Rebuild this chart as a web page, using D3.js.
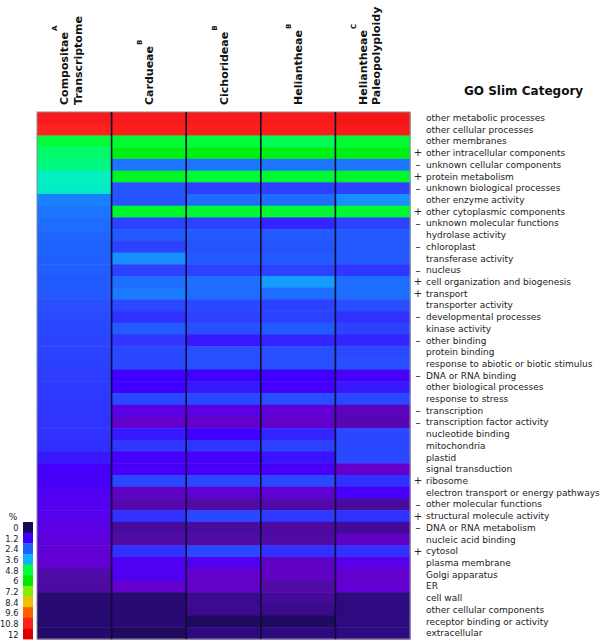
<!DOCTYPE html>
<html><head><meta charset="utf-8">
<script src="https://cdn.jsdelivr.net/npm/d3@7"></script>
<style>body{margin:0;background:#fff}svg{display:block}text{font-family:"DejaVu Sans",sans-serif}</style>
</head><body>
<svg id="c" width="601" height="640"></svg>
<script>
const categories = ["other metabolic processes","other cellular processes","other membranes","other intracellular components","unknown cellular components","protein metabolism","unknown biological processes","other enzyme activity","other cytoplasmic components","unknown molecular functions","hydrolase activity","chloroplast","transferase activity","nucleus","cell organization and biogenesis","transport","transporter activity","developmental processes","kinase activity","other binding","protein binding","response to abiotic or biotic stimulus","DNA or RNA binding","other biological processes","response to stress","transcription","transcription factor activity","nucleotide binding","mitochondria","plastid","signal transduction","ribosome","electron transport or energy pathways","other molecular functions","structural molecule activity","DNA or RNA metabolism","nucleic acid binding","cytosol","plasma membrane","Golgi apparatus","ER","cell wall","other cellular components","receptor binding or activity","extracellular"];
const signs = ["","","","+","–","+","–","","+","–","","–","","–","+","+","","–","","–","","","–","","","–","–","","","","","+","","–","+","–","","+","","","","","","",""];
const columnLines = [["Compositae","Transcriptome"],["Cardueae"],["Cichorideae"],["Heliantheae"],["Heliantheae","Paleopolyploidy"]];
const columnLetters = ["A","B","B","B","C"];
const compositae = [11.0,10.8,4.9,4.6,4.5,4.2,4.15,2.9,2.7,2.6,2.5,2.45,2.4,2.35,2.3,2.28,2.1,2.05,2.0,1.95,1.9,1.88,1.8,1.76,1.74,1.7,1.68,1.62,1.58,1.4,1.15,1.1,1.02,0.97,0.92,0.85,0.8,0.75,0.72,0.45,0.42,0.15,0.14,0.12,0.11];
const cardueae = [11.0,10.9,5.0,5.6,2.7,5.3,2.2,2.2,5.2,1.9,2.3,1.9,3.1,1.9,2.6,2.8,2.0,1.6,2.3,1.7,2.0,2.0,1.2,1.2,2.0,0.85,0.7,1.4,1.7,1.1,1.1,2.0,0.65,0.5,1.6,0.4,0.45,1.6,1.0,1.0,0.72,0.15,0.15,0.15,0.05];
const cichorideae = [11.0,10.9,4.9,5.7,2.7,5.0,1.9,2.6,5.1,1.9,2.3,2.2,2.3,1.9,2.6,2.6,2.0,1.9,2.1,1.4,2.1,2.1,1.2,1.4,2.0,0.85,0.7,1.2,1.7,1.1,1.1,2.0,0.75,0.45,2.0,0.4,0.45,2.0,1.0,0.7,0.68,0.3,0.3,0.05,0.2];
const heliantheae = [11.0,10.9,4.7,5.6,2.7,5.1,1.9,2.6,5.1,1.5,2.3,2.2,2.3,1.9,3.3,2.6,1.9,1.9,2.3,1.5,2.1,2.1,1.2,1.15,2.1,0.75,0.7,1.5,1.9,1.35,1.1,2.0,0.75,0.48,1.75,0.42,0.45,1.6,0.65,0.65,0.45,0.38,0.28,0.05,0.2];
const paleopolyploidy = [11.2,11.0,5.0,5.6,2.7,5.2,1.9,3.1,5.1,1.9,2.3,2.3,2.3,1.7,2.6,2.6,2.1,1.6,1.9,1.5,2.0,2.1,1.1,1.4,2.0,0.6,0.55,2.0,2.0,2.0,0.7,1.6,1.1,0.4,1.6,0.35,0.65,1.6,0.9,0.7,0.75,0.2,0.2,0.2,0.2];
const series = [compositae,cardueae,cichorideae,heliantheae,paleopolyploidy];
const legendTicks = [0,1.2,2.4,3.6,4.8,6,7.2,8.4,9.6,10.8,12];

const color = d3.scaleLinear()
  .domain([0,0.2,0.45,0.7,0.9,1.2,1.6,2.0,2.4,3.0,3.6,4.2,4.8,6,7.2,8.4,9.6,10.8,12])
  .range(["#1a0a55","#2e0a80","#500aa5","#6400cc","#5800ea","#4000ff","#3030ff","#2a48ff","#2060ff","#1888ff","#10b0ff","#00f0c0","#00ff40","#00e800","#80f000","#f0c000","#ff6000","#ff2020","#dd0000"])
  .interpolate(d3.interpolateRgb).clamp(true);

const svg = d3.select("#c");
const mLeft = 37, mRight = 410, mTop = 112, mBottom = 639;
const x = d3.scaleBand().domain(d3.range(series.length)).range([mLeft,mRight]);
const y = d3.scaleBand().domain(categories).range([mTop,mBottom]);

// cells
const cells = [];
series.forEach((s,ci)=>s.forEach((v,ri)=>cells.push({ci,ri,v})));
svg.append("g").selectAll("rect").data(cells).join("rect")
  .attr("x",d=>x(d.ci)).attr("y",d=>y(categories[d.ri]))
  .attr("width",x.bandwidth()+0.5).attr("height",y.bandwidth()+0.5)
  .attr("fill",d=>color(d.v));
// outer border
svg.append("rect").attr("x",mLeft).attr("y",mTop).attr("width",mRight-mLeft).attr("height",mBottom-mTop)
  .attr("fill","none").attr("stroke","#8a8a9a").attr("stroke-width",1);
// separators
svg.append("g").selectAll("line").data(d3.range(1,series.length)).join("line")
  .attr("x1",d=>x(d)).attr("x2",d=>x(d)).attr("y1",mTop).attr("y2",mBottom)
  .attr("stroke","#0c0c30").attr("stroke-width",1.6);

// column headers
const hdr = svg.append("g").selectAll("text").data(columnLines).join("text")
  .attr("transform",(d,i)=>`translate(${x(i)+x.bandwidth()/2},105) rotate(-90)`)
  .attr("font-size",11).attr("font-weight","bold").attr("fill","#111");
hdr.each(function(lines,i){
  const t = d3.select(this);
  const two = lines.length===2;
  t.append("tspan").attr("x",0).attr("y",two?-6:4).text(lines[0]);
  t.append("tspan").attr("font-size",7).attr("dy",-11).attr("dx",1).text(columnLetters[i]);
  if(two) t.append("tspan").attr("x",0).attr("y",7.5).text(lines[1]);
});

svg.append("text").attr("x",464).attr("y",95).attr("font-size",12).attr("font-weight","bold")
  .attr("fill","#111").text("GO Slim Category");

// row labels
svg.append("g").selectAll("text").data(categories).join("text")
  .attr("x",426).attr("y",d=>y(d)+y.bandwidth()/2).attr("dy","0.35em")
  .attr("font-size",9).attr("fill","#222").text(d=>d);
svg.append("g").selectAll("text").data(signs.map((s,i)=>({s,c:categories[i]})).filter(d=>d.s)).join("text")
  .attr("x",418).attr("y",d=>y(d.c)+y.bandwidth()/2).attr("dy","0.35em")
  .attr("text-anchor","middle").attr("font-size",10).attr("fill","#222").text(d=>d.s);

// legend
const ly = d3.scaleBand().domain(legendTicks).range([522,639]);
const lg = svg.append("g");
lg.selectAll("rect").data(legendTicks).join("rect")
  .attr("x",23).attr("y",d=>ly(d)).attr("width",10).attr("height",ly.bandwidth()+0.4)
  .attr("fill",d=>color(d));
lg.selectAll("text").data(legendTicks).join("text")
  .attr("x",18.5).attr("y",d=>ly(d)+ly.bandwidth()/2+1).attr("dy","0.35em")
  .attr("text-anchor","end").attr("font-size",8.3).attr("fill","#222").text(d=>d3.format("~g")(d));
lg.append("text").attr("x",13).attr("y",517).attr("dy","0.35em").attr("text-anchor","middle")
  .attr("font-size",9).attr("fill","#222").text("%");
</script>
</body></html>
